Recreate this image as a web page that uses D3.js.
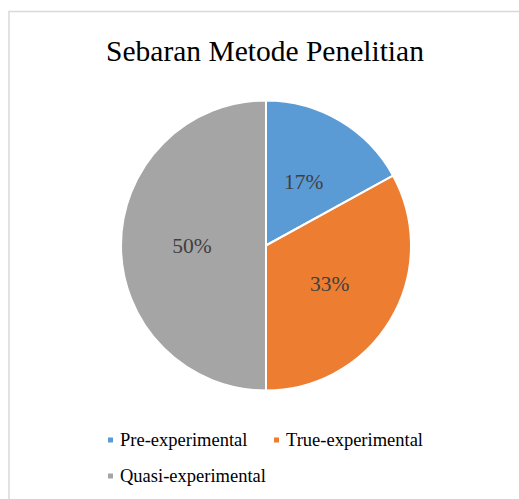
<!DOCTYPE html>
<html>
<head>
<meta charset="utf-8">
<script src="https://cdn.jsdelivr.net/npm/d3@7"></script>
<style>
  body { margin: 0; background: #fff; }
  svg { display: block; }
</style>
</head>
<body>
<div id="chart"></div>
<script>
// data
var categories = ["Pre-experimental", "True-experimental", "Quasi-experimental"];
var values = [17, 33, 50];
var labels = ["17%", "33%", "50%"];
var colors = ["#5B9BD5", "#ED7D31", "#A5A5A5"];

var width = 519, height = 499;
var cx = 266, cy = 245.5, radius = 145;

var svg = d3.select("#chart")
  .append("svg")
    .attr("width", width)
    .attr("height", height);

// chart border
svg.append("rect")
  .attr("x", 9)
  .attr("y", 11.5)
  .attr("width", 540)
  .attr("height", 520)
  .attr("fill", "#fff")
  .attr("stroke", "#d9d9d9")
  .attr("stroke-width", 1.5);

// title
svg.append("text")
  .attr("x", 265)
  .attr("y", 61)
  .attr("text-anchor", "middle")
  .style("font-family", "'Liberation Serif', 'Times New Roman', serif")
  .style("font-size", "29.5px")
  .style("fill", "#000")
  .text("Sebaran Metode Penelitian");

var color = d3.scaleOrdinal().domain(categories).range(colors);

var pie = d3.pie().sort(null).value(function(d) { return d.value; });
var data = categories.map(function(c, i) { return {name: c, value: values[i], label: labels[i]}; });

var arc = d3.arc().innerRadius(0).outerRadius(radius);
var labelArc = d3.arc().innerRadius(radius * 0.51).outerRadius(radius * 0.51);

var g = svg.append("g")
  .attr("transform", "translate(" + cx + "," + cy + ")");

g.selectAll("path")
  .data(pie(data))
  .enter()
  .append("path")
    .attr("d", arc)
    .attr("fill", function(d) { return color(d.data.name); })
    .attr("stroke", "#fff")
    .attr("stroke-width", 2)
    .attr("stroke-linejoin", "round");

g.selectAll("text.lbl")
  .data(pie(data))
  .enter()
  .append("text")
    .attr("class", "lbl")
    .attr("transform", function(d) { return "translate(" + labelArc.centroid(d) + ")"; })
    .attr("dy", "0.35em")
    .attr("text-anchor", "middle")
    .style("font-family", "'Liberation Serif', 'Times New Roman', serif")
    .style("font-size", "21.5px")
    .style("fill", "#404040")
    .text(function(d) { return d.data.label; });

// legend
var legendPos = [[108, 446], [274, 446], [108, 482]];
var legend = svg.selectAll("g.legend")
  .data(data)
  .enter()
  .append("g")
    .attr("class", "legend")
    .attr("transform", function(d, i) { return "translate(" + legendPos[i][0] + "," + legendPos[i][1] + ")"; });

legend.append("rect")
  .attr("x", 0)
  .attr("y", -8.5)
  .attr("width", 5)
  .attr("height", 5)
  .attr("fill", function(d) { return color(d.name); });

legend.append("text")
  .attr("x", 12)
  .attr("y", 0)
  .style("font-family", "'Liberation Serif', 'Times New Roman', serif")
  .style("font-size", "18.5px")
  .style("fill", "#000")
  .text(function(d) { return d.name; });
</script>
</body>
</html>
